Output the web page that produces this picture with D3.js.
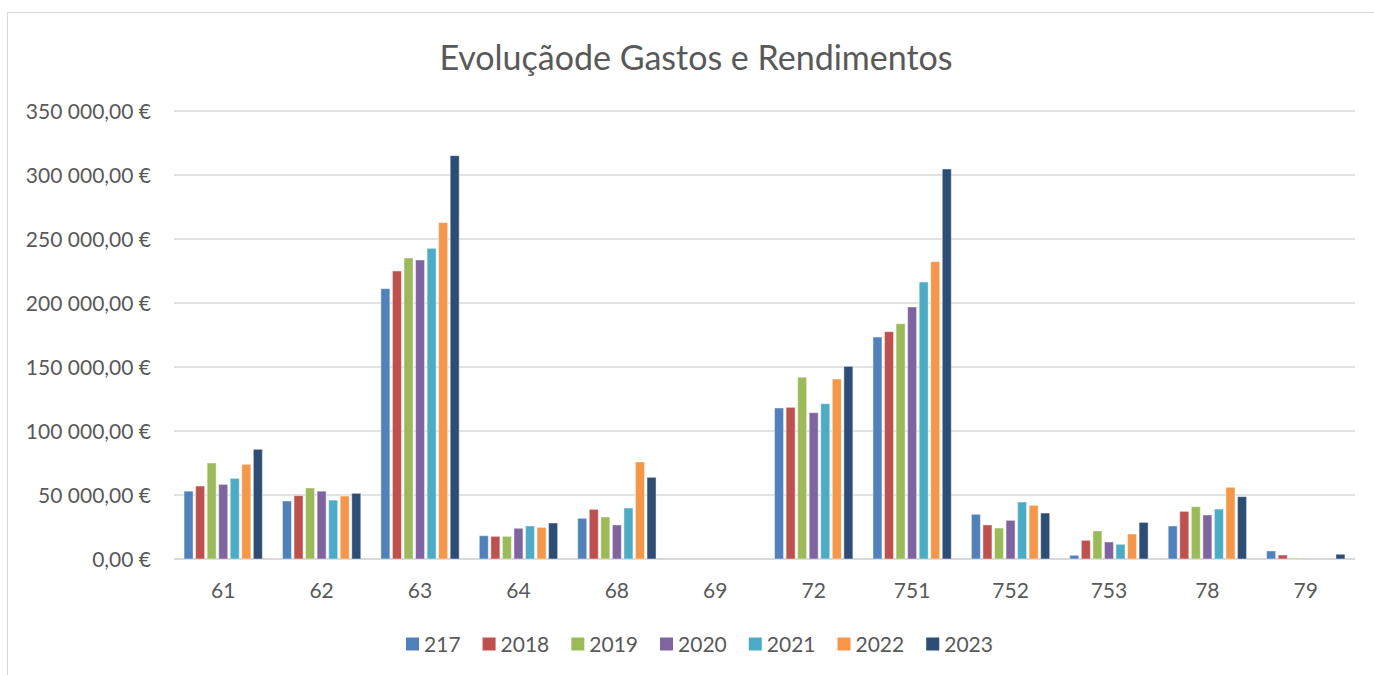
<!DOCTYPE html>
<html>
<head>
<meta charset="utf-8">
<script src="https://cdn.jsdelivr.net/npm/d3@7"></script>
<style>
  html, body { margin: 0; padding: 0; background: #fff; }
  svg { display: block; }
  text { font-family: Lato, "Open Sans", sans-serif; fill: #595959; }
</style>
</head>
<body>
<svg id="chart" width="1374" height="675"></svg>
<script>
// ---- data
var titre = "Evoluçãode Gastos e Rendimentos";
var contas = ["61", "62", "63", "64", "68", "69", "72", "751", "752", "753", "78", "79"];
var annees = ["217", "2018", "2019", "2020", "2021", "2022", "2023"];
var couleurs = ["#4f81bd", "#c0504d", "#9bbb59", "#8064a2", "#4bacc6", "#f79646", "#2c4d75"];
var yTicks = [0, 50000, 100000, 150000, 200000, 250000, 300000, 350000];

// une ligne par année, une valeur par compte
var v217  = [53000, 45300, 211200, 18200, 31800, 0, 118000, 173400, 34900, 2900, 25800, 6300];
var v2018 = [57000, 49500, 225000, 17700, 38800, 0, 118500, 177600, 26600, 14600, 37200, 3100];
var v2019 = [75000, 55500, 235200, 17700, 32800, 0, 142000, 183800, 24200, 21900, 40900, 800];
var v2020 = [58300, 53000, 233600, 24000, 26600, 0, 114300, 196900, 30200, 13300, 34400, 0];
var v2021 = [63000, 46000, 242700, 25800, 39800, 0, 121300, 216400, 44500, 11500, 39000, 0];
var v2022 = [74000, 49200, 262800, 24700, 75800, 0, 140600, 232300, 41900, 19500, 56000, 0];
var v2023 = [85700, 51300, 315100, 28100, 63800, 0, 150500, 304700, 35900, 28600, 48700, 3700];
var series = [v217, v2018, v2019, v2020, v2021, v2022, v2023];

// ---- géométrie
var gauche = 174, droite = 1355, haut = 111, bas = 559;

var svg = d3.select("#chart");

// cadre
svg.append("rect")
  .attr("x", 7.5).attr("y", 12.5)
  .attr("width", 1400).attr("height", 700)
  .attr("fill", "none")
  .attr("stroke", "#d9d9d9")
  .attr("stroke-width", 1);

var y = d3.scaleLinear().domain([0, 350000]).range([bas, haut]);
var x0 = d3.scaleBand().domain(contas).range([gauche, droite]);
var x1 = d3.scaleBand().domain(annees).range([0, x0.bandwidth()])
  .paddingInner(0.22).paddingOuter(0.87);

var loc = d3.formatLocale({decimal: ",", thousands: "\u00a0", grouping: [3], currency: ["", "\u00a0€"]});
var fmt = loc.format("$,.2f");

// grille
svg.append("g").selectAll("line")
  .data(yTicks)
  .join("line")
  .attr("x1", gauche).attr("x2", droite)
  .attr("y1", function(d){ return y(d); })
  .attr("y2", function(d){ return y(d); })
  .attr("stroke", "#d9d9d9")
  .attr("stroke-width", function(d){ return d == 0 ? 2 : 1.5; });

// labels axe Y
svg.append("g").selectAll("text")
  .data(yTicks)
  .join("text")
  .attr("x", 151)
  .attr("y", function(d){ return y(d); })
  .attr("dy", "0.36em")
  .attr("text-anchor", "end")
  .attr("font-size", 21)
  .text(function(d){ return fmt(d); });

// barres
var groupes = svg.append("g").selectAll("g")
  .data(annees)
  .join("g")
  .attr("fill", function(d, i){ return couleurs[i]; });

groupes.selectAll("rect")
  .data(function(a, i){
    return contas.map(function(c, j){ return {compte: c, annee: a, val: series[i][j]}; });
  })
  .join("rect")
  .filter(function(d){ return d.val > 0; })
  .attr("x", function(d){ return x0(d.compte) + x1(d.annee); })
  .attr("y", function(d){ return y(d.val); })
  .attr("width", x1.bandwidth())
  .attr("height", function(d){ return bas - y(d.val); })
  .attr("stroke", "#ffffff")
  .attr("stroke-opacity", 0.45)
  .attr("stroke-width", 1);

// labels axe X
svg.append("g").selectAll("text")
  .data(contas)
  .join("text")
  .attr("x", function(d){ return x0(d) + x0.bandwidth() / 2; })
  .attr("y", 598)
  .attr("text-anchor", "middle")
  .attr("font-size", 21)
  .text(function(d){ return d; });

// titre
svg.append("text")
  .attr("x", 696)
  .attr("y", 70)
  .attr("text-anchor", "middle")
  .attr("font-size", 34)
  .text(titre);

// légende
var leg = svg.append("g");
var posX = 0;
annees.forEach(function(a, i){
  var it = leg.append("g").attr("transform", "translate(" + posX + ",0)");
  it.append("rect")
    .attr("x", 0).attr("y", -6.5)
    .attr("width", 13).attr("height", 13)
    .attr("fill", couleurs[i]);
  var t = it.append("text")
    .attr("x", 18).attr("y", 0)
    .attr("dy", "0.36em")
    .attr("font-size", 21)
    .text(a);
  posX += 18 + t.node().getComputedTextLength() + 22;
});
var largeur = posX - 22;
leg.attr("transform", "translate(" + (699.5 - largeur / 2) + ",644)");
</script>
</body>
</html>
